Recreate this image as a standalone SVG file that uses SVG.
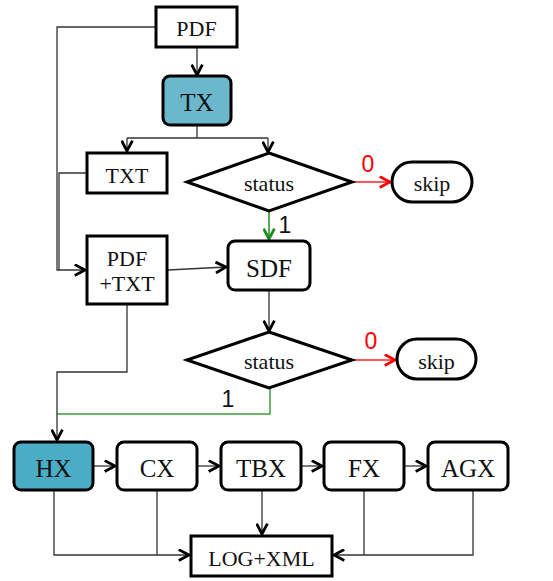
<svg xmlns="http://www.w3.org/2000/svg" width="553" height="581" viewBox="0 0 553 581">
<style>
.box{fill:#fff;stroke:#000;stroke-width:3}
.tx{fill:#6BB7CB}
.hx{fill:#4BACC6}
.t{font-family:"Liberation Serif","Times New Roman",serif;font-size:22px;fill:#111;text-anchor:middle}
.big{font-size:25px}
.lab{font-family:"Liberation Sans",Arial,sans-serif;font-size:23px;text-anchor:middle}
.c{fill:none;stroke:#333;stroke-width:1.3}
.r{fill:none;stroke:#ff2020;stroke-width:1.3}
.g{fill:none;stroke:#3d9a3d;stroke-width:1.5}
</style>
<defs>
<marker id="ab" viewBox="0 0 12 12" refX="11" refY="6" markerWidth="13" markerHeight="13" markerUnits="userSpaceOnUse" orient="auto"><path d="M1.5,1 L11,6 L1.5,11" fill="none" stroke="#000" stroke-width="2.6"/></marker>
<marker id="ar" viewBox="0 0 12 12" refX="11" refY="6" markerWidth="13" markerHeight="13" markerUnits="userSpaceOnUse" orient="auto"><path d="M1.5,1 L11,6 L1.5,11" fill="none" stroke="#ff0000" stroke-width="2.6"/></marker>
<marker id="ag" viewBox="0 0 12 12" refX="11" refY="6" markerWidth="13" markerHeight="13" markerUnits="userSpaceOnUse" orient="auto"><path d="M1.5,1 L11,6 L1.5,11" fill="none" stroke="#1e8c1e" stroke-width="2.6"/></marker>
</defs>
<g id="connectors">
<path class="c" d="M156,27 H57 V270 H85" marker-end="url(#ab)"/>
<path class="c" d="M87,173 H59 V270"/>
<path class="c" d="M197,47 V75" marker-end="url(#ab)"/>
<path class="c" d="M197,125 V138"/>
<path class="c" d="M127,138 H268"/>
<path class="c" d="M127,138 V151" marker-end="url(#ab)"/>
<path class="c" d="M268,138 V152" marker-end="url(#ab)"/>
<path class="r" d="M352,182 H390" marker-end="url(#ar)"/>
<path d="M269,211 V239" fill="none" stroke="#1e8c1e" stroke-width="1.5" marker-end="url(#ag)"/>
<path class="c" d="M168,270 L226,267" marker-end="url(#ab)"/>
<path class="c" d="M269,291 V331" marker-end="url(#ab)"/>
<path class="r" d="M352,360 H395" marker-end="url(#ar)"/>
<path class="g" d="M270,388 V414 H57"/>
<path class="c" d="M127,305 V372 H57 V440" marker-end="url(#ab)"/>
<path class="c" d="M94,466 H115" marker-end="url(#ab)"/>
<path class="c" d="M198,466 H219" marker-end="url(#ab)"/>
<path class="c" d="M302,466 H322" marker-end="url(#ab)"/>
<path class="c" d="M405,466 H426" marker-end="url(#ab)"/>
<path class="c" d="M54,491 V555 H189" marker-end="url(#ab)"/>
<path class="c" d="M157,491 V555"/>
<path class="c" d="M262,491 V534" marker-end="url(#ab)"/>
<path class="c" d="M473,491 V555 H334" marker-end="url(#ab)"/>
<path class="c" d="M364,491 V555"/>
<text class="lab" x="368" y="172" fill="#ff0000">0</text>
<text class="lab" x="285" y="233" fill="#111">1</text>
<text class="lab" x="371" y="349" fill="#ff0000">0</text>
<text class="lab" x="228" y="407" fill="#111">1</text>
</g>
<g id="pdf"><rect class="box" x="156" y="7" width="81" height="40"/><text class="t" x="196.5" y="36">PDF</text></g>
<g id="tx"><rect class="box tx" x="163" y="76" width="68" height="49" rx="7"/><text class="t big" x="197" y="111">TX</text></g>
<g id="txt"><rect class="box" x="87" y="153" width="80" height="40"/><text class="t" x="127" y="183">TXT</text></g>
<g id="status1"><polygon class="box" points="269,153 352,182 269,211 187,182"/><text class="t" x="269" y="191">status</text></g>
<g id="skip1"><rect class="box" x="392" y="162" width="80" height="40" rx="20"/><text class="t" x="432" y="191">skip</text></g>
<g id="pdftxt"><rect class="box" x="87" y="236" width="80" height="68"/><text class="t" x="127" y="266">PDF</text><text class="t" x="127" y="291">+TXT</text></g>
<g id="sdf"><rect class="box" x="228" y="241" width="82" height="49" rx="7"/><text class="t big" x="269" y="277">SDF</text></g>
<g id="status2"><polygon class="box" points="269,332 352,360 269,388 187,360"/><text class="t" x="269" y="369">status</text></g>
<g id="skip2"><rect class="box" x="397" y="339" width="79" height="40" rx="20"/><text class="t" x="436.5" y="369">skip</text></g>
<g id="hx"><rect class="box hx" x="14" y="442" width="79" height="48" rx="7"/><text class="t big" x="53.5" y="477">HX</text></g>
<g id="cx"><rect class="box" x="117" y="442" width="80" height="48" rx="7"/><text class="t big" x="157" y="477">CX</text></g>
<g id="tbx"><rect class="box" x="221" y="442" width="80" height="48" rx="7"/><text class="t big" x="261" y="477">TBX</text></g>
<g id="fx"><rect class="box" x="324" y="442" width="80" height="48" rx="7"/><text class="t big" x="364" y="477">FX</text></g>
<g id="agx"><rect class="box" x="428" y="442" width="80" height="48" rx="7"/><text class="t big" x="468" y="477">AGX</text></g>
<g id="logxml"><rect class="box" x="191" y="536" width="141" height="40"/><text class="t" x="261.5" y="566">LOG+XML</text></g>
</svg>
